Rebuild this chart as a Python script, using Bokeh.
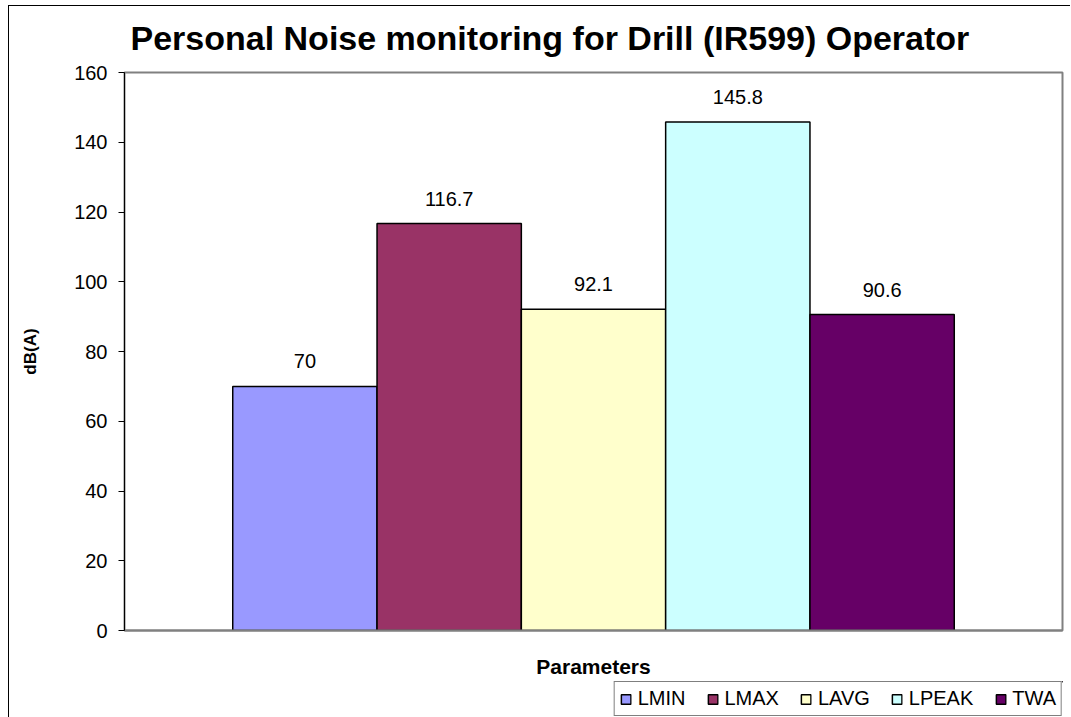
from bokeh.plotting import figure
from bokeh.layouts import column
from bokeh.models import (Range1d, FixedTicker, Legend, LegendItem, Title,
                          ColumnDataSource, InlineStyleSheet)
from bokeh.core.properties import value
from bokeh.embed import file_html
from bokeh.resources import INLINE

# ---- data ----
categories = ["LMIN", "LMAX", "LAVG", "LPEAK", "TWA"]
values = [70, 116.7, 92.1, 145.8, 90.6]
colors = ["#9999FF", "#993366", "#FFFFCC", "#CCFFFF", "#660066"]
value_labels = ["70", "116.7", "92.1", "145.8", "90.6"]
y_ticks = [0, 20, 40, 60, 80, 100, 120, 140, 160]

FONT = "Liberation Sans"
W = 1070

p = figure(width=W, height=681, output_backend="svg", toolbar_location=None,
           x_range=Range1d(0, 6.5), y_range=Range1d(0, 160),
           min_border_left=124, min_border_right=8, min_border_top=72,
           min_border_bottom=51)
p.background_fill_color = "white"
p.border_fill_color = "white"
p.outline_line_color = "#808080"
p.outline_line_width = 2
p.xgrid.visible = False
p.ygrid.visible = False

# title
p.title = Title(text="Personal Noise monitoring for Drill (IR599) Operator",
                align="left", offset=6, text_font=FONT, text_font_size="34px",
                text_font_style="bold", text_color="black", standoff=31)

# bars
xs = [1.25 + i for i in range(len(categories))]
sources = [ColumnDataSource(dict(x=[xs[i]], top=[v])) for i, v in enumerate(values)]
for src, col in zip(sources, colors):
    p.vbar(x="x", top="top", bottom=0, width=1.0, source=src,
           fill_color=col, line_color="black", line_width=1.5)

# value labels
lab_src = ColumnDataSource(dict(x=xs, y=values, t=value_labels))
p.text(x="x", y="y", text="t", source=lab_src, text_align="center",
       text_baseline="bottom", y_offset=-18, text_font=value(FONT),
       text_font_size="20px", text_color="black")

# axes
p.yaxis.ticker = FixedTicker(ticks=y_ticks)
p.yaxis.minor_tick_line_color = None
p.yaxis.major_tick_in = 0
p.yaxis.major_tick_out = 6
p.yaxis.major_label_standoff = 11
p.yaxis.axis_line_color = "black"
p.yaxis.major_tick_line_color = "black"
p.yaxis.major_label_text_font = FONT
p.yaxis.major_label_text_font_size = "20px"
p.yaxis.major_label_text_color = "black"
p.yaxis.axis_label = "dB(A)"
p.yaxis.axis_label_text_font = FONT
p.yaxis.axis_label_text_font_size = "17px"
p.yaxis.axis_label_text_font_style = "bold"
p.yaxis.axis_label_text_color = "black"
p.yaxis.axis_label_standoff = 31

p.xaxis.ticker = FixedTicker(ticks=[])
p.xaxis.minor_tick_line_color = None
p.xaxis.major_tick_in = 0
p.xaxis.major_tick_out = 0
p.xaxis.major_label_standoff = 0
p.xaxis.axis_line_color = "#808080"
p.xaxis.axis_line_width = 2
p.xaxis.axis_label = "Parameters"
p.xaxis.axis_label_text_font = FONT
p.xaxis.axis_label_text_font_size = "21px"
p.xaxis.axis_label_text_font_style = "bold"
p.xaxis.axis_label_text_color = "black"
p.xaxis.axis_label_standoff = 24

# legend strip below the chart
lf = figure(width=W, height=36, output_backend="svg", toolbar_location=None,
            x_range=Range1d(-1001, -1000), y_range=Range1d(-1001, -1000),
            x_axis_location=None, y_axis_location=None, min_border=0,
            min_border_left=0, min_border_right=0)
lf.outline_line_color = None
lf.xgrid.visible = False
lf.ygrid.visible = False
lf.background_fill_color = "white"
lf.border_fill_color = "white"
legend_renderers = []
for src, col in zip(sources, colors):
    r = lf.vbar(x="x", top="top", bottom=0, width=1.0, source=src,
                fill_color=col, line_color="black", line_width=1.5)
    legend_renderers.append(r)
items = [LegendItem(label=c, renderers=[r]) for c, r in zip(categories, legend_renderers)]
legend = Legend(items=items, orientation="horizontal", location="top_right",
                label_text_font=FONT, label_text_font_size="20px",
                label_text_color="black", glyph_width=12, glyph_height=12,
                label_standoff=6, spacing=21, padding=5, margin=0,
                border_line_color="black", border_line_width=1,
                background_fill_color="white", background_fill_alpha=1.0)
lf.add_layout(legend, "center")

layout = column(p, lf, spacing=0)
layout.stylesheets = [InlineStyleSheet(css="""
:host { position: relative; }
:host::after { content: ""; position: absolute; left: 8px; top: 5px; right: 0px; bottom: 0px;
  border-left: 1px solid black; border-top: 1px solid black; pointer-events: none; z-index: 10; }
""")]

open("out.html", "w").write(file_html(layout, INLINE))
